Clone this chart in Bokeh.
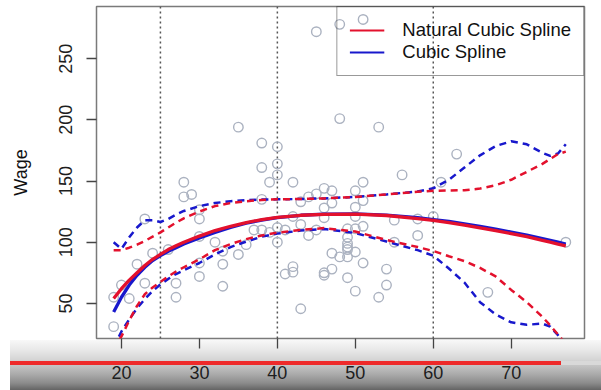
from bokeh.plotting import figure
from bokeh.models import Range1d, FixedTicker, Span, Legend, LegendItem
from bokeh.embed import file_html
from bokeh.resources import INLINE

# ---------------- data ----------------
x_ticks = [20, 30, 40, 50, 60, 70]
y_ticks = [50, 100, 150, 200, 250]
knots = [25, 40, 60]

age = [45, 48, 51, 48, 53, 35, 63, 56, 61, 51, 46, 47, 50, 44, 45, 38, 40, 38, 40, 40,
       39, 42, 28, 28, 29, 38, 43, 46, 47, 42, 43, 44, 45, 37, 38, 39, 40, 41, 40, 36,
       35, 33, 33, 41, 42, 42, 43, 46, 46, 47, 47, 48, 49, 49, 49, 49, 50, 50, 51, 51,
       50, 49, 49, 49, 50, 51, 50, 54, 54, 53, 55, 55, 58, 58, 60, 67, 77, 23, 24, 26,
       22, 20, 19, 21, 23, 19, 27, 27, 30, 30, 30, 32, 33, 30, 30, 46]
wage = [272, 278, 282, 201, 194, 194, 172, 155, 149, 149, 144, 142, 142, 137, 139.5, 181, 178, 161, 164, 155,
        149, 149, 149, 137, 139, 135, 133, 128, 132, 121, 114.5, 105.5, 110, 110, 110, 108, 112, 110, 100, 98,
        90, 82, 64, 74, 80, 75.5, 45.6, 75, 73, 78, 91, 88, 88, 71, 96, 111, 128.6, 121, 134, 113,
        111, 104, 99, 94, 92, 83, 60, 78, 65, 55, 118, 100, 119, 105.5, 121, 59, 100, 119, 91, 94,
        82, 65, 55, 54, 66.5, 31, 66.5, 55, 126.5, 119, 104.7, 100, 92.6, 83, 72, 120]

grid_age = [19, 20, 21, 22, 23, 24, 25, 26, 27, 28, 30, 32, 34, 36, 38, 40, 43, 46, 50, 54,
            58, 60, 62, 64, 66, 68, 70, 72, 74, 75, 76, 77]

ns_fit = [54, 62, 69, 75, 81, 86, 90, 94, 97, 100, 105, 109.5, 113, 116, 118.5, 120.3, 122, 122.8, 123, 121.8,
          119.3, 117.8, 116, 114, 111.8, 109.5, 107, 104.5, 101.5, 100, 98.5, 97]
ns_upper = [93.5, 93.5, 95.5, 98, 101, 104.5, 108, 112, 116, 119.5, 125, 129.5, 132, 133.5, 134.5, 135, 135.3, 135.8, 137, 139,
            141.2, 142, 142.2, 142.5, 143.8, 146.5, 151, 157.5, 164, 168, 172, 174]
ns_lower = [12, 23, 36, 48, 57.5, 63, 67.5, 72, 76, 79.5, 86, 93.5, 98.5, 102.5, 105.5, 107.8, 110, 111.5, 108.7, 101.8,
            96, 92.8, 88.5, 84.5, 79, 72, 61, 51, 39, 32, 24.5, 17]

bs_fit = [43, 55, 65, 73, 79.5, 85, 89, 92.5, 95.5, 98.5, 103.5, 108, 112, 115.5, 118, 120, 122, 123, 123.2, 122.2,
          120, 118.5, 117, 115, 113, 110.7, 108.3, 105.8, 103, 101.5, 100, 98.5]
bs_upper = [100, 94.5, 104, 112, 118, 118, 116.5, 119, 122.5, 125.5, 129.5, 132, 133.5, 134.3, 134.8, 135, 135.3, 135.8, 137, 139,
            141.5, 144, 151, 161, 171, 178.5, 182.5, 180, 173, 170.5, 172.5, 180]
bs_lower = [14, 27, 37, 46, 53.5, 60, 65.5, 70, 74, 77, 83, 90, 96, 100.5, 104.5, 107, 109.5, 110.8, 107.5, 100.5,
            93.5, 89, 78.5, 67, 51, 41, 34.5, 32.5, 33.5, 31, 24, 16]

legend_labels = ["Natural Cubic Spline", "Cubic Spline"]

# ---------------- styles ----------------
RED = "#e3112d"
BLUE = "#1818cc"
FONT = "Liberation Sans"

# video-player bar behind the lower border (CSS background of the plot element;
# the canvas border is transparent so it shows through)
PLAYER_BG = ", ".join([
    "linear-gradient(#ee2a2a, #ee2a2a) 10px 361px / 551px 4px no-repeat",
    "linear-gradient(#d9d9d9, #d9d9d9) 561px 361px / 40px 4px no-repeat",
    "linear-gradient(to bottom, #f8f8f8 0px, #e8e8e8 10px, #d4d4d4 20px, #c0c0c0 27px, "
    "#a8a8a8 35px, #8c8c8c 43px, #646464 50px) 10px 340px / 591px 50px no-repeat",
    "white",
])

p = figure(width=601, height=390, output_backend="svg", toolbar_location=None,
           x_range=Range1d(16.8, 79.4), y_range=Range1d(21.3, 292.6),
           min_border_left=96, min_border_right=17, min_border_top=6, min_border_bottom=52,
           background_fill_color="white", border_fill_color=None,
           styles={"background": PLAYER_BG})

p.xgrid.visible = False
p.ygrid.visible = False
p.outline_line_color = "#7a7a7a"
p.outline_line_width = 1.5

for ax in (p.xaxis, p.yaxis):
    ax.axis_line_color = None
    ax.major_tick_out = 10
    ax.major_tick_in = 0
    ax.minor_tick_line_color = None
    ax.major_tick_line_color = "#444444"
    ax.major_tick_line_width = 1.3
    ax.major_label_text_font = FONT
    ax.major_label_text_font_size = "18px"
    ax.major_label_text_color = "#1e1e1e"

p.xaxis.ticker = FixedTicker(ticks=x_ticks)
p.xaxis.major_label_standoff = 17
p.yaxis.ticker = FixedTicker(ticks=y_ticks)
p.yaxis.major_label_orientation = "vertical"
p.yaxis.major_label_standoff = 14
p.yaxis.axis_label = "Wage"
p.yaxis.axis_label_text_font = FONT
p.yaxis.axis_label_text_font_size = "18px"
p.yaxis.axis_label_text_font_style = "normal"
p.yaxis.axis_label_text_color = "#111111"
p.yaxis.axis_label_standoff = 26

for k in knots:
    p.add_layout(Span(location=k, dimension="height", line_color="#555555",
                      line_dash="2 3", line_width=1.5, level="underlay"))

p.scatter(age, wage, marker="circle", size=9.5, fill_color=None,
          line_color="#abb2c0", line_width=1.4)

# cubic spline (blue) first, then natural cubic spline (red)
p.line(grid_age, bs_fit, color=BLUE, line_width=3.3)
p.line(grid_age, bs_upper, color=BLUE, line_width=2.5, line_dash="7 5")
p.line(grid_age, bs_lower, color=BLUE, line_width=2.5, line_dash="7 5")
p.line(grid_age, ns_fit, color=RED, line_width=3.3)
p.line(grid_age, ns_upper, color=RED, line_width=2.5, line_dash="7 5")
p.line(grid_age, ns_lower, color=RED, line_width=2.5, line_dash="7 5")

# single-point renderers that only supply the thinner legend swatches
leg_ns = p.line(grid_age[:1], ns_fit[:1], color=RED, line_width=2)
leg_bs = p.line(grid_age[:1], bs_fit[:1], color=BLUE, line_width=2)

legend = Legend(items=[LegendItem(label=legend_labels[0], renderers=[leg_ns]),
                       LegendItem(label=legend_labels[1], renderers=[leg_bs])],
                location="top_right", margin=0, padding=12, spacing=0,
                glyph_width=35, glyph_height=20, label_standoff=18,
                label_text_font=FONT, label_text_font_size="18.5px",
                label_text_color="#111111",
                border_line_color="#333333", border_line_width=1.2,
                background_fill_alpha=0)
p.add_layout(legend)

open("out.html", "w").write(file_html(p, INLINE))
